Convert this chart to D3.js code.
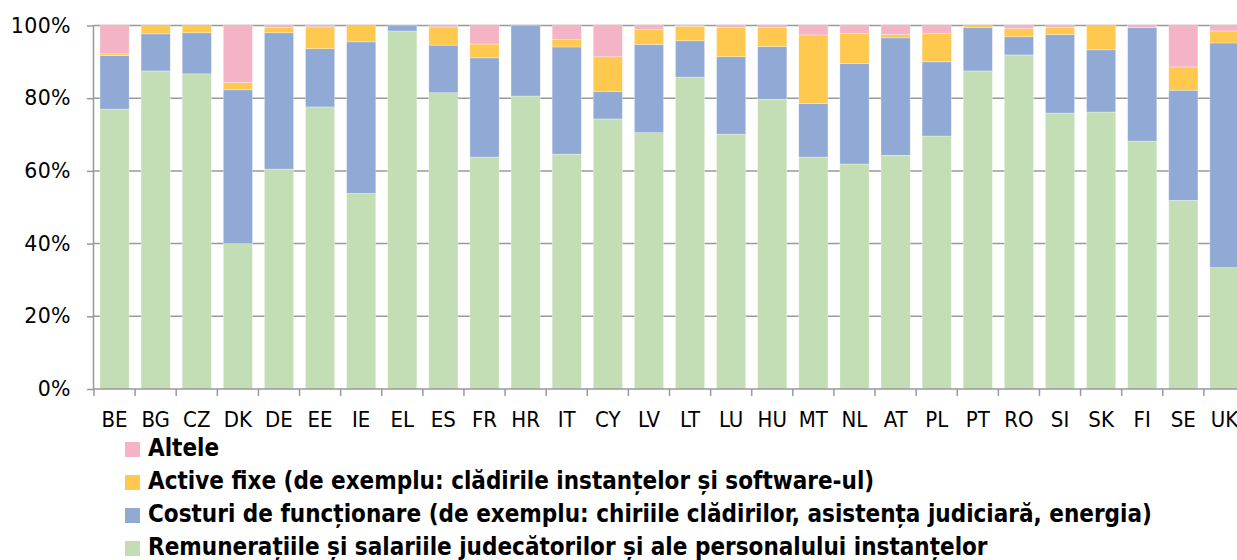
<!DOCTYPE html>
<html><head><meta charset="utf-8">
<script src="https://cdn.jsdelivr.net/npm/d3@7"></script>
<style>body{margin:0;background:#fff}svg{display:block}</style>
</head><body>
<svg id="c" width="1237" height="560"></svg>
<script>
const categories = ["BE","BG","CZ","DK","DE","EE","IE","EL","ES","FR","HR","IT","CY","LV","LT","LU","HU","MT","NL","AT","PL","PT","RO","SI","SK","FI","SE","UK"];
const salaries = [77.0,87.5,86.7,40.0,60.5,77.6,53.8,98.5,81.5,63.8,80.6,64.6,74.3,70.5,85.8,70.1,79.7,63.8,61.9,64.3,69.6,87.5,91.9,75.9,76.2,68.2,51.9,33.4];
const operating = [14.7,10.2,11.3,42.3,37.5,16.0,41.7,1.5,13.1,27.3,19.4,29.5,7.6,24.3,10.0,21.3,14.5,14.7,27.6,32.3,20.4,11.9,5.0,21.6,17.1,31.2,30.3,61.8];
const fixedAssets = [0.5,2.3,2.0,2.0,1.4,6.0,4.5,0,5.0,3.8,0,2.1,9.5,4.1,4.0,8.0,5.2,18.9,8.3,0.9,7.8,0.6,2.2,1.9,6.7,0,6.4,3.3];
const other = [7.8,0,0,15.7,0.6,0.4,0,0,0.4,5.1,0,3.8,8.6,1.1,0.2,0.6,0.6,2.6,2.2,2.5,2.2,0,0.9,0.6,0,0.6,11.4,1.5];
const yTicks = [0,20,40,60,80,100];
const seriesNames = ["Remunerațiile și salariile judecătorilor și ale personalului instanțelor","Costuri de funcționare (de exemplu: chiriile clădirilor, asistența judiciară, energia)","Active fixe (de exemplu: clădirile instanțelor și software-ul)","Altele"];
const colors = ["#c3deb5","#91a9d5","#ffc84f","#f5b4c6"];

const svg = d3.select("#c");
const x = d3.scaleBand().domain(categories).range([94, 1245]).paddingInner(0.29).paddingOuter(0.145);
const y = d3.scaleLinear().domain([0,100]).range([389, 25.5]);

// gridlines
svg.append("g").selectAll("line").data(yTicks.filter(d=>d>0)).join("line")
  .attr("x1",94).attr("x2",1237).attr("y1",d=>y(d)).attr("y2",d=>y(d))
  .attr("stroke","#999").attr("stroke-width",1.5);

const rows = categories.map((c,i)=>({cat:c, s0:salaries[i], s1:operating[i], s2:fixedAssets[i], s3:other[i]}));
const stack = d3.stack().keys(["s0","s1","s2","s3"])(rows);
svg.append("g").selectAll("g").data(stack).join("g").attr("fill",(d,i)=>colors[i])
  .selectAll("rect").data(d=>d).join("rect")
  .attr("x",d=>x(d.data.cat)).attr("width",x.bandwidth())
  .attr("y",d=>y(d[1])).attr("height",d=>Math.max(0,y(d[0])-y(d[1])))
  .attr("stroke","#fff").attr("stroke-opacity",0.5).attr("stroke-width",0.6);

// y axis
const ya = svg.append("g").attr("transform","translate(94,0)")
  .call(d3.axisLeft(y).tickValues(yTicks).tickFormat(d=>d+"%").tickSize(7).tickPadding(16));
ya.select(".domain").attr("stroke","#999").attr("stroke-width",1.5).attr("d","M-0.5,389V25.5");
ya.selectAll(".tick line").attr("stroke","#999").attr("stroke-width",1.5);
ya.selectAll("text").attr("font-family","DejaVu Sans").attr("font-size",20.5).attr("fill","#000").attr("letter-spacing","0.4px");

// x axis
const tickPos = categories.map(c=>x(c)-x.step()*x.paddingInner()/2);
const xa = svg.append("g").attr("transform","translate(0,389)");
xa.append("line").attr("x1",94).attr("x2",1237).attr("stroke","#999").attr("stroke-width",1.5);
xa.selectAll(".tk").data(tickPos).join("line").attr("class","tk")
  .attr("x1",d=>d).attr("x2",d=>d).attr("y1",0).attr("y2",7).attr("stroke","#999").attr("stroke-width",1.5);
xa.selectAll("text").data(categories).join("text")
  .attr("x",d=>x(d)+x.bandwidth()/2).attr("y",38).attr("text-anchor","middle")
  .attr("font-family","DejaVu Sans Condensed").attr("font-size",22).attr("fill","#000").text(d=>d);

// legend
const legendOrder = [3,2,1,0];
const lg = svg.append("g");
legendOrder.forEach((si,k)=>{
  const base = 456 + k*33;
  lg.append("rect").attr("x",125).attr("y",base-14).attr("width",15).attr("height",15).attr("fill",colors[si]);
  lg.append("text").attr("x",148).attr("y",base).attr("font-family","DejaVu Sans Condensed")
    .attr("font-size",24).attr("font-weight","bold").attr("fill","#000").text(seriesNames[si]);
});
</script>
</body></html>
